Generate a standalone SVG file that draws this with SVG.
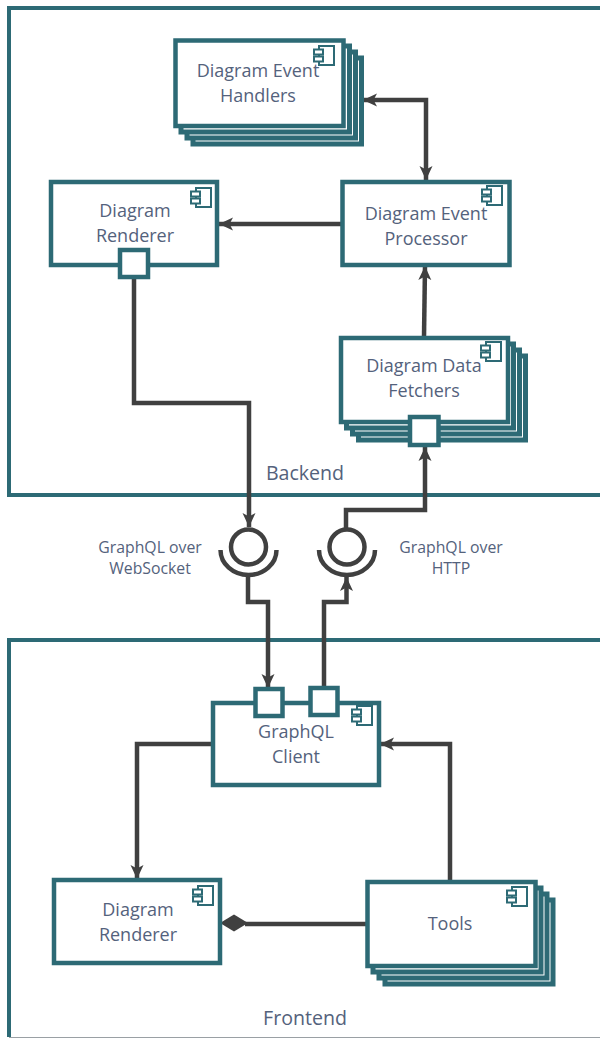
<svg xmlns="http://www.w3.org/2000/svg" xmlns:xlink="http://www.w3.org/1999/xlink" width="600" height="1038" viewBox="0 0 600 1038">
<style>
.frame{fill:none;stroke:#2d6a75;stroke-width:4}
.box{fill:#fff;stroke:#2d6a75;stroke-width:4.5}
.st{stroke-width:5}
.ic{fill:#fff;stroke:#2d6a75;stroke-width:2}
.con{fill:none;stroke:#404040;stroke-width:4.5}
.ah{fill:#404040;stroke:none}
text{font-family:"Open Sans","Noto Sans","Liberation Sans",sans-serif;font-size:18px;fill:#54627c;text-anchor:middle}
.sm{font-size:15.8px}
.fr{font-size:19.6px}
</style>
<defs>
<g id="icon"><rect class="ic" x="5" y="0" width="15" height="19"/><rect class="ic" x="0" y="3.5" width="9" height="5"/><rect class="ic" x="0" y="10.5" width="9" height="5"/></g>
<marker id="arr" markerUnits="userSpaceOnUse" markerWidth="16" markerHeight="16" refX="14" refY="8" orient="auto"><path class="ah" d="M14 8L0 1.5L3.5 8L0 14.5Z"/></marker>
<marker id="arrs" markerUnits="userSpaceOnUse" markerWidth="16" markerHeight="16" refX="2" refY="8" orient="auto"><path class="ah" d="M2 8L16 1.5L12.5 8L16 14.5Z"/></marker>
</defs>
<g id="backend"><path class="frame" d="M600 8H9V495H600"/><text class="fr" x="305" y="480">Backend</text></g>
<g id="frontend"><path class="frame" d="M600 640H9V1037"/><path d="M9 1037.5H600" stroke="#9aa0a4" stroke-width="1"/><text class="fr" x="305" y="1025">Frontend</text></g>
<g id="connectors">
<path class="con" marker-start="url(#arrs)" marker-end="url(#arr)" d="M363 100H426V180"/>
<path class="con" marker-end="url(#arr)" d="M341 224H219"/>
<path class="con" marker-end="url(#arr)" d="M424 337L425 266"/>
<path class="con" marker-end="url(#arr)" d="M134 279V403H249V527"/>
<path class="con" marker-end="url(#arr)" d="M346 528V510H425V447"/>
<path class="con" marker-end="url(#arr)" d="M248 576V602H268V688"/>
<path class="con" marker-end="url(#arr)" d="M324 686V602H346.500V577"/>
<path class="con" marker-end="url(#arr)" d="M212 744H137V879"/>
<path class="con" marker-end="url(#arr)" d="M450 880V744H380"/>
<path class="con" d="M366 924H245"/>
<path class="ah" d="M220 923L234 914.500L248 923L234 931.500Z"/>
</g>
<g id="socket1"><circle cx="248.500" cy="547" r="17.500" fill="#fff" stroke="#404040" stroke-width="4.500"/><path d="M220.500 550A28 25 0 0 0 276.500 550" fill="none" stroke="#404040" stroke-width="4.500"/></g>
<g id="socket2"><circle cx="347" cy="547" r="17.500" fill="#fff" stroke="#404040" stroke-width="4.500"/><path d="M319 550A28 25 0 0 0 375 550" fill="none" stroke="#404040" stroke-width="4.500"/></g>
<g id="label-ws"><text class="sm" x="150" y="553">GraphQL over</text><text class="sm" x="150" y="574">WebSocket</text></g>
<g id="label-http"><text class="sm" x="451" y="553">GraphQL over</text><text class="sm" x="451" y="574">HTTP</text></g>
<g id="handlers"><rect class="box st" x="193" y="58" width="168.500" height="86"/><rect class="box st" x="187" y="52" width="168.500" height="86"/><rect class="box st" x="181" y="46" width="168.500" height="86"/><rect class="box" x="175.500" y="40.500" width="168" height="85.500"/><use xlink:href="#icon" href="#icon" x="314" y="46"/><text x="258" y="77">Diagram Event</text><text x="258" y="102">Handlers</text></g>
<g id="renderer-b"><rect class="box" x="51" y="182" width="166" height="83"/><use xlink:href="#icon" href="#icon" x="191" y="188"/><text x="135" y="217">Diagram</text><text x="135" y="242">Renderer</text><rect class="box" x="120" y="250" width="28" height="27"/></g>
<g id="processor"><rect class="box" x="342.500" y="182" width="167" height="83"/><use xlink:href="#icon" href="#icon" x="482" y="186"/><text x="426" y="220">Diagram Event</text><text x="426" y="245">Processor</text></g>
<g id="fetchers"><rect class="box st" x="358.500" y="356" width="167" height="84"/><rect class="box st" x="352.500" y="350" width="167" height="84"/><rect class="box st" x="346.500" y="344" width="167" height="84"/><rect class="box" x="341" y="338" width="167" height="84"/><use xlink:href="#icon" href="#icon" x="481" y="342"/><text x="424" y="372">Diagram Data</text><text x="424" y="397">Fetchers</text><rect class="box" x="410" y="417" width="28.500" height="28"/></g>
<g id="client"><rect class="box" x="213" y="703" width="166" height="82"/><use xlink:href="#icon" href="#icon" x="352" y="706"/><text x="296" y="738">GraphQL</text><text x="296" y="763">Client</text><rect class="box" x="255.500" y="689" width="27" height="27"/><rect class="box" x="310.500" y="688" width="27" height="27"/></g>
<g id="renderer-f"><rect class="box" x="54" y="880" width="166" height="83"/><use xlink:href="#icon" href="#icon" x="193" y="886"/><text x="138" y="916">Diagram</text><text x="138" y="941">Renderer</text></g>
<g id="tools"><rect class="box st" x="385" y="900" width="168" height="84"/><rect class="box st" x="379" y="894" width="168" height="84"/><rect class="box st" x="373" y="888" width="168" height="84"/><rect class="box" x="367.500" y="882" width="168" height="84"/><use xlink:href="#icon" href="#icon" x="507" y="887"/><text x="450" y="930">Tools</text></g>
</svg>
